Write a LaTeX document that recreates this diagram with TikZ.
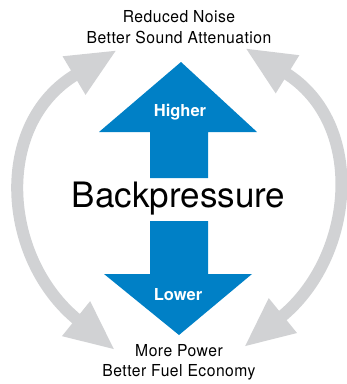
\documentclass[tikz,border=0pt]{standalone}
\usepackage{fontspec}
\setmainfont{TeX Gyre Heros}
\newfontfamily\labelfont{TeX Gyre Heros}[LetterSpace=3,FakeStretch=0.95]
\usetikzlibrary{arrows.meta,positioning}
\definecolor{pressblue}{RGB}{0,128,198}
\definecolor{cyclegray}{RGB}{209,210,212}

\begin{document}
\begin{tikzpicture}[x=1pt,y=-1pt,>={Triangle[width=41pt,length=50pt]},
	effect/.style={anchor=base,font=\labelfont\fontsize{16.5}{19}\selectfont},
	level/.style={anchor=base,text=white,font=\bfseries\fontsize{16.5}{19}\selectfont},
	cycle/.style={<->,line width=12pt,draw=cyclegray}]

	\useasboundingbox (0,0) rectangle (347,384);

	% big arrows
	\fill [pressblue] (181,62) -- (257,132) -- (208,132) -- (208,178) -- (150,178) -- (150,132) -- (99,132) -- cycle;
	\fill [pressblue] (179,335) -- (252,274) -- (208,274) -- (208,221) -- (150,221) -- (150,274) -- (104,274) -- cycle;

	\node [effect]	(reduced)	at (179,22.7)	{Reduced Noise};
	\node [effect]	(sound)		at (179,43)		{Better Sound Attenuation};
	\node [effect]	(power)		at (179,356.7)	{More Power};
	\node [effect]	(fuel)		at (179,376)	{Better Fuel Economy};

	\node [level]	(higher)	at (180,116.7)	{Higher};
	\node [level]	(lower)		at (178,300)	{Lower};
	\node [anchor=base,font=\fontsize{35}{40}\selectfont] (backpressure) at (178.5,207.7) {Backpressure};

	\coordinate (left top)		at (117,50);
	\coordinate (left bottom)	at (115,350);
	\coordinate (right top)		at (245,48);
	\coordinate (right bottom)	at (244,347);

	\draw [cycle] (left bottom) .. controls (2,259) and (-7.6,124.2) .. (left top);
	\draw [cycle] (right top) .. controls (366.6,123.2) and (355.1,257.1) .. (right bottom);

\end{tikzpicture}
\end{document}
